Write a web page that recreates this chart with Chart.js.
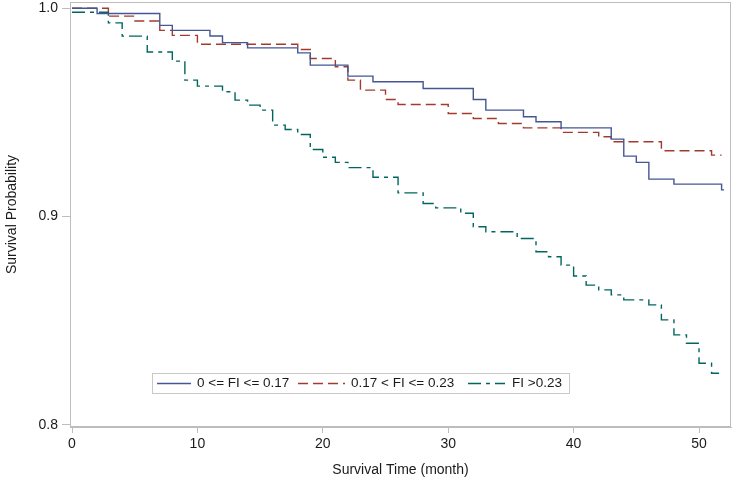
<!DOCTYPE html>
<html><head><meta charset="utf-8">
<script src="https://cdn.jsdelivr.net/npm/chart.js@4.4.1/dist/chart.umd.min.js"></script>
<style>html,body{margin:0;padding:0;background:#fff;}canvas{display:block;}</style>
</head><body>
<canvas id="c" width="733" height="488"></canvas>
<script>
const seriesNames = ["0 <= FI <= 0.17", "0.17 < FI <= 0.23", "FI >0.23"];

const lowTimes = [0, 2, 7, 8, 11, 12, 14, 18, 19, 22, 24, 28, 32, 33, 36, 37, 39, 43, 44, 45, 46, 48, 51.8, 52];
const lowSurv  = [1.0, 0.9975, 0.9918, 0.9894, 0.9867, 0.9835, 0.981, 0.9786, 0.9727, 0.9674, 0.9647, 0.9615, 0.9562, 0.9511, 0.9479, 0.9455, 0.9426, 0.9372, 0.929, 0.926, 0.918, 0.9156, 0.9128, 0.9128];

const midTimes = [0, 2.9, 4.9, 7, 8, 10, 18, 19, 21, 22, 23, 25, 26, 30, 32, 34, 36, 39, 42, 43, 47, 51, 51.8];
const midSurv  = [1.0, 0.9962, 0.9939, 0.9894, 0.987, 0.9827, 0.9802, 0.9759, 0.9719, 0.9655, 0.9607, 0.9562, 0.9538, 0.9495, 0.9471, 0.9447, 0.9426, 0.9404, 0.9383, 0.9359, 0.9316, 0.9295, 0.9295];

const highTimes = [0, 2.9, 4, 6, 8, 9, 10, 12, 13, 14, 15, 16, 17, 18, 19, 20, 21, 22, 24, 26, 28, 29, 31, 32, 33, 35.5, 37, 38, 39, 40, 41, 42, 43, 44, 46, 47, 48, 49, 50, 51, 51.6];
const highSurv  = [0.9981, 0.993, 0.9866, 0.979, 0.9746, 0.9655, 0.9626, 0.9599, 0.9559, 0.9535, 0.9511, 0.9439, 0.9418, 0.9394, 0.9322, 0.9285, 0.926, 0.9235, 0.9189, 0.9114, 0.9063, 0.9042, 0.9016, 0.8951, 0.8927, 0.8895, 0.8831, 0.8807, 0.8767, 0.8715, 0.8671, 0.8648, 0.8624, 0.86, 0.8576, 0.8504, 0.8432, 0.8392, 0.8296, 0.8248, 0.8248];

const xTickValues = [0, 10, 20, 30, 40, 50];
const yTickValues = [0.8, 0.9, 1.0];

const colors = ['#445694', '#A23A2E', '#01665E'];
const dashes = [[], [10, 5], [13, 5, 4, 5]];

function pts(t, s) { return t.map((v, i) => ({ x: v, y: s[i] })); }

const AXIS = '#bdbdbd';
const FONT = '"Liberation Sans", Arial, sans-serif';

const framePlugin = {
  id: 'frame',
  beforeDatasetsDraw(chart) {
    const a = chart.chartArea, ctx = chart.ctx;
    ctx.save();
    ctx.strokeStyle = AXIS; ctx.lineWidth = 1;
    ctx.strokeRect(Math.round(a.left) + 0.5, Math.round(a.top) + 0.5, Math.round(a.right - a.left) - 1, Math.round(a.bottom - a.top) - 1);
    ctx.restore();
  }
};

const legendPlugin = {
  id: 'boxLegend',
  afterDraw(chart) {
    const ctx = chart.ctx;
    ctx.save();
    ctx.strokeStyle = '#c8c8c8'; ctx.lineWidth = 1;
    ctx.strokeRect(152.5, 373.5, 417, 20);
    const items = [
      { x1: 157, x2: 191, tx: 197 },
      { x1: 298, x2: 345, tx: 351 },
      { x1: 468, x2: 505, tx: 512 }
    ];
    const cy = 383.5;
    ctx.font = '13.5px ' + FONT;
    ctx.textBaseline = 'middle';
    items.forEach((it, i) => {
      ctx.beginPath();
      ctx.strokeStyle = colors[i]; ctx.lineWidth = 1.4;
      ctx.setLineDash(dashes[i]);
      ctx.moveTo(it.x1, cy); ctx.lineTo(it.x2, cy);
      ctx.stroke();
      ctx.setLineDash([]);
      ctx.fillStyle = '#1a1a1a';
      ctx.fillText(seriesNames[i], it.tx, cy);
    });
    ctx.restore();
  }
};

const ds = [pts(lowTimes, lowSurv), pts(midTimes, midSurv), pts(highTimes, highSurv)].map((d, i) => ({
  label: seriesNames[i],
  data: d,
  borderColor: colors[i],
  borderWidth: 1.4,
  borderDash: dashes[i],
  stepped: 'before',
  pointRadius: 0,
  fill: false
}));

new Chart(document.getElementById('c'), {
  type: 'line',
  data: { datasets: ds },
  plugins: [framePlugin, legendPlugin],
  options: {
    responsive: false,
    animation: false,
    layout: { padding: { left: 0, right: 2, top: 2, bottom: 0 } },
    plugins: { legend: { display: false }, tooltip: { enabled: false } },
    scales: {
      x: {
        type: 'linear', min: -0.16, max: 52.55,
        afterBuildTicks: s => { s.ticks = xTickValues.map(v => ({ value: v })); },
        afterFit: s => { s.height = 61; s.paddingLeft = 0; s.paddingRight = 0; },
        grid: { drawOnChartArea: false, drawTicks: true, tickLength: 6, color: AXIS },
        border: { display: true, color: AXIS },
        ticks: { color: '#1a1a1a', font: { family: FONT, size: 14 }, padding: 3, maxRotation: 0 },
        title: { display: true, text: 'Survival Time (month)', color: '#1a1a1a', font: { family: FONT, size: 14 }, padding: { top: 0, bottom: 9.6 } }
      },
      y: {
        type: 'linear', min: 0.799, max: 1.003,
        afterBuildTicks: s => { s.ticks = yTickValues.map(v => ({ value: v })); },
        afterFit: s => { s.width = 70; s.paddingTop = 0; s.paddingBottom = 0; },
        grid: { drawOnChartArea: false, drawTicks: true, tickLength: 8, color: AXIS },
        border: { display: true, color: AXIS },
        ticks: { color: '#1a1a1a', font: { family: FONT, size: 14 }, padding: 4, callback: v => v.toFixed(1) },
        title: { display: true, text: 'Survival Probability', color: '#1a1a1a', font: { family: FONT, size: 14 }, padding: { top: 3.6, bottom: 0 } }
      }
    }
  }
});
</script>
</body></html>
